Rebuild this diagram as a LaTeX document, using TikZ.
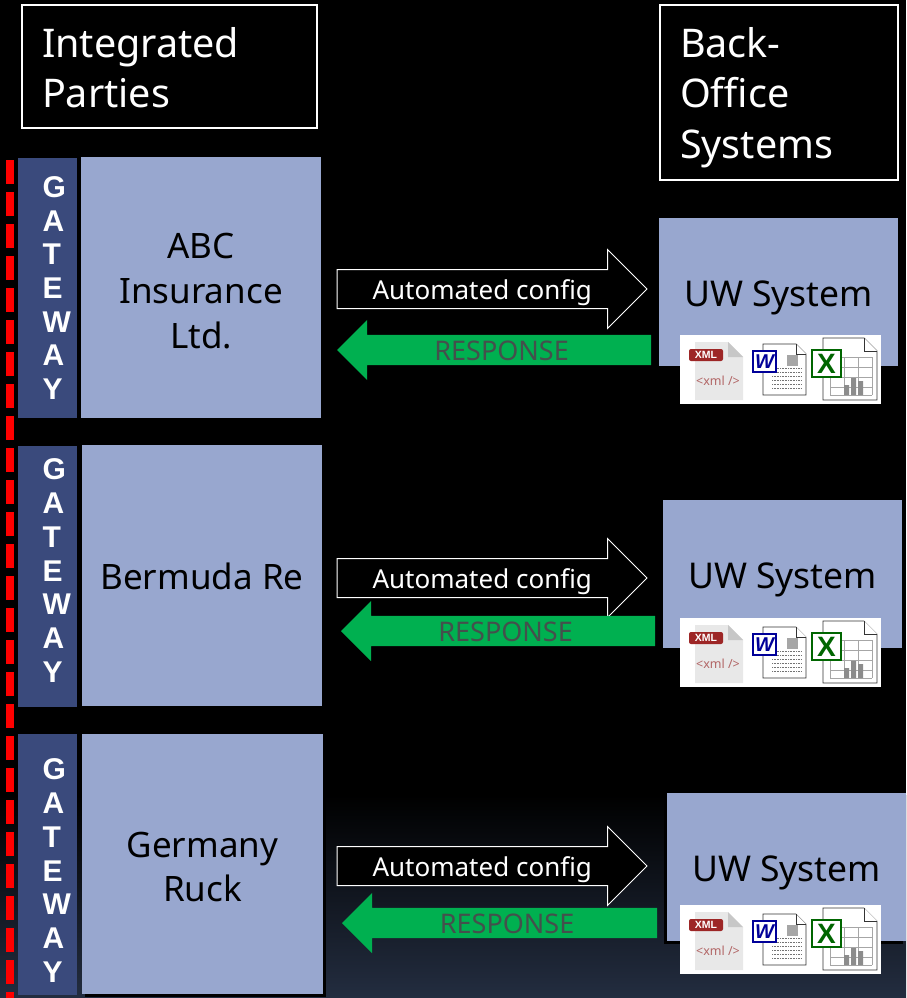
\documentclass[tikz,border=0pt]{standalone}
\usepackage{fontspec}
\setmainfont{Noto Sans}
\newfontfamily\gatefont{Liberation Sans}
\usetikzlibrary{positioning, shapes.arrows, shadows}
\definecolor{partyblue}{HTML}{98A7CF}
\definecolor{gateblue}{HTML}{3A4A7C}
\definecolor{respgreen}{HTML}{00B050}
\definecolor{resptext}{HTML}{44504C}
\definecolor{navybot}{HTML}{232D40}
\tikzset{%
	header/.style={draw=white, line width=2pt, fill=black, text=white, anchor=north west, inner sep=0mm, outer sep=0mm,%
		align=left, font=\fontsize{39.5}{50.5}\selectfont},
	party/.style={fill=partyblue, anchor=north west, minimum width=240pt, minimum height=261pt, inner sep=0mm, outer sep=0mm,%
		align=center, font=\fontsize{35}{44.8}\selectfont},
	gateway/.style={fill=gateblue, anchor=north west, minimum width=59pt, minimum height=261pt, inner sep=0mm, outer sep=0mm,%
		text=white, text width=10pt, align=flush left, font=\gatefont\fontsize{30}{33.7}\selectfont\bfseries},
	uwsys/.style={fill=partyblue, anchor=north west, minimum width=239pt, minimum height=148pt, inner sep=0mm, outer sep=0mm,%
		text height=37pt, font=\fontsize{35.5}{42}\selectfont},
	cfgarrow/.style={single arrow, draw=white, line width=1pt, fill=black, text=white, anchor=tail, inner sep=0mm, outer sep=0mm,%
		text height=29pt, text depth=9pt, minimum height=310pt, minimum width=78pt, single arrow head extend=20pt,%
		single arrow tip angle=90, font=\fontsize{26}{30}\selectfont},
	resparrow/.style={single arrow, fill=respgreen, text=resptext, anchor=tail, shape border rotate=180, inner sep=0mm, outer sep=0mm,%
		text height=25pt, text depth=5pt, minimum height=314pt, minimum width=60pt, single arrow head extend=15pt,%
		single arrow tip angle=90, font=\fontsize{27}{30}\selectfont},
	edge/.style={drop shadow={shadow xshift=#1, shadow yshift=-3pt, fill=black, opacity=1}},
	iconpage/.style={draw=black!80, line width=0.7pt, fill=white},
	iconline/.style={black!55, line width=0.7pt},
	icons/.pic={
		\fill[white] (0,0) rectangle (201,69);
		% xml file
		\fill[black!9] (15,7) -- (48,7) -- (63,22) -- (63,65) -- (15,65) -- cycle;
		\fill[black!22] (48,7) -- (63,22) -- (48,22) -- cycle;
		\node[fill=red!55!black!85, rounded corners=2pt, text=white, inner sep=0mm, minimum width=34pt, minimum height=12pt,%
			font=\gatefont\fontsize{10.5}{11}\selectfont\bfseries] (-xmltag) at (26,20) {XML};
		\node[text=red!50!black!60, inner sep=0mm, font=\fontsize{12.5}{13}\selectfont] (-xmltext) at (38,46) {<xml />};
		% word file
		\draw[iconpage] (83,9) -- (116,9) -- (126,19) -- (126,60) -- (83,60) -- cycle;
		\draw[iconpage] (116,9) -- (116,19) -- (126,19);
		\fill[black!35] (107,20) rectangle (118,31);
		\foreach \y in {33,37,41,45,49,53}
			\draw[iconline, dash pattern=on 1pt off 0.6pt] (92,\y) -- (121,\y);
		\node[draw=blue!60!black, line width=2pt, fill=white, text=blue!60!black, inner sep=0mm, minimum width=23pt, minimum height=21pt,%
			font=\gatefont\fontsize{20}{20}\selectfont\bfseries\itshape] (-wordbadge) at (84.5,26.5) {W};
		% excel file
		\draw[iconpage] (143,3) -- (184,3) -- (197,16) -- (197,65) -- (143,65) -- cycle;
		\draw[iconpage] (184,3) -- (184,16) -- (197,16);
		\foreach \y in {22,32,42,52,60}
			\draw[iconline, black!35] (150,\y) -- (192,\y);
		\foreach \x in {150,164,178,192}
			\draw[iconline, black!35] (\x,22) -- (\x,60);
		\fill[black!45] (164,50) rectangle (169,60) (171,43) rectangle (176,60) (178,46) rectangle (183,60);
		\node[draw=green!40!black, line width=2pt, fill=white, text=green!40!black, inner sep=0mm, minimum width=29pt, minimum height=27pt,%
			font=\gatefont\fontsize{28}{28}\selectfont\bfseries] (-excelbadge) at (146.5,28.5) {X};
	}
}

\begin{document}
\begin{tikzpicture}[x=1pt, y=-1pt]
	\useasboundingbox (0,0) rectangle (906,998);
	\fill[black] (0,0) rectangle (906,998);
	\shade[top color=black, bottom color=navybot] (0,795) rectangle (906,998);

	\node[header, minimum width=295pt, minimum height=123pt, text width=255pt, text height=32pt] (partieshead) at (22,5) {Integrated\\Parties};
	\node[header, minimum width=238pt, minimum height=175pt, text width=198pt, text height=40pt] (backhead) at (660,5) {Back-\\Office\\Systems};

	\draw[red, line width=8pt, dash pattern=on 24pt off 8pt] (10.3,160) -- (10.3,998);

	\node[gateway, minimum height=260pt] (gate1) at (18,158) {G\\A\\T\\E\\W\\A\\Y};
	\node[party, text height=122pt] (abc) at (81,157) {ABC\\Insurance\\Ltd.};
	\node[gateway, text depth=214pt] (gate2) at (18,446) {G\\A\\T\\E\\W\\A\\Y};
	\node[party, text height=29pt] (bermuda) at (82,445) {Bermuda Re};
	\node[gateway, text depth=190pt] (gate3) at (18,734) {G\\A\\T\\E\\W\\A\\Y};
	\node[party, edge=3pt, minimum width=241pt, minimum height=260pt, text height=76pt] (germany) at (82,734) {Germany\\Ruck};

	\node[uwsys] (uw1) at (659,218) {UW System};
	\node[uwsys] (uw2) at (663,500) {UW System};
	\node[uwsys, edge=-3pt] (uw3) at (667,793) {UW System};

	\node[cfgarrow] (cfg1) at (337,289) {Automated config\hspace{3pt}};
	\node[cfgarrow] (cfg2) at (337,578) {Automated config\hspace{3pt}};
	\node[cfgarrow] (cfg3) at (337,866) {Automated config\hspace{3pt}};
	\node[resparrow] (resp1) at (651,350) {RESPONSE};
	\node[resparrow] (resp2) at (655,631) {RESPONSE};
	\node[resparrow, minimum height=315pt] (resp3) at (657,923) {RESPONSE};

	\pic (files1) at (680,335) {icons};
	\pic (files2) at (680,618) {icons};
	\pic (files3) at (680,905) {icons};
\end{tikzpicture}
\end{document}
